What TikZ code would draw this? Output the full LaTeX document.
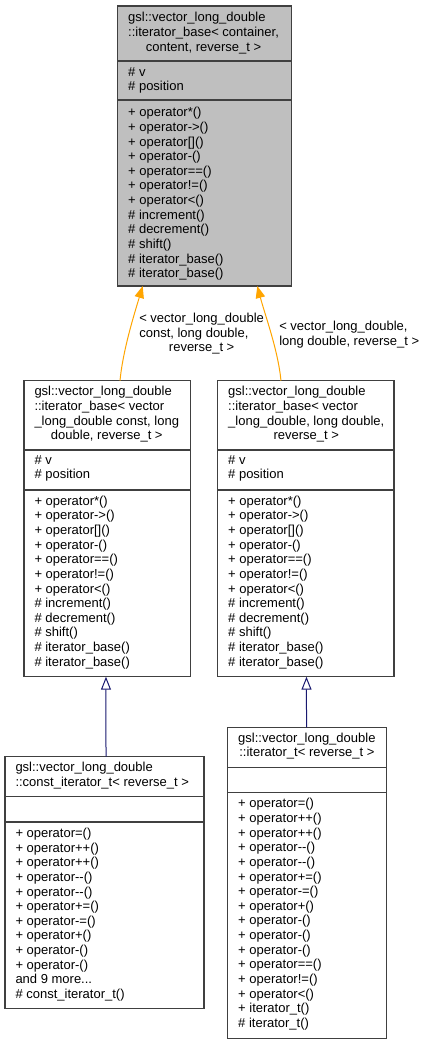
\documentclass[tikz,border=0pt]{standalone}
\usepackage{fontspec}
\setmainfont{Liberation Sans}[Ligatures=TeXOff]
\usetikzlibrary{arrows.meta,calc}
\definecolor{bordergray}{HTML}{404040}
\definecolor{boxgray}{HTML}{BFBFBF}
\definecolor{edgeorange}{HTML}{FFA500}
\definecolor{edgeblue}{HTML}{191970}
\newcommand\mytab[1]{\begin{tabular}[t]{@{}l@{}}#1\end{tabular}}
\newcommand\lastc[1]{\multicolumn{1}{@{}c@{}}{#1}}
\begin{document}
\begin{tikzpicture}[x=0.75pt,y=-0.75pt,
  box/.style={draw=bordergray, line width=0.8pt, fill=white, anchor=north west, inner sep=0pt, outer sep=0pt},
  sepline/.style={draw=bordergray, line width=0.8pt},
  txt/.style={anchor=base west, inner sep=0pt, outer sep=0pt, font=\fontsize{9.75}{10.98}\selectfont},
  inherit/.style={draw=edgeorange, line width=0.75pt, -{Triangle[length=9pt,width=7pt,fill=edgeorange]}},
  derive/.style={draw=edgeblue, line width=0.75pt, -{Triangle[open,length=9.75pt,width=7.5pt]}}]
\fill[white] (0,0) rectangle (426,1044);
\useasboundingbox (0,0) rectangle (426,1044);

% boxes
\node[box, fill=boxgray, minimum width=130.5pt, minimum height=210pt] (A) at (117.7,6) {};
\node[box, minimum width=125pt, minimum height=222pt] (B) at (24,380.7) {};
\node[box, minimum width=132.2pt, minimum height=222pt] (C) at (217.7,380.7) {};
\node[box, minimum width=149.25pt, minimum height=189pt] (D) at (5,756.7) {};
\node[box, minimum width=119.25pt, minimum height=233.25pt] (E) at (227.7,727.3) {};

% separators
\draw[sepline] ($(A.north west)+(0,55)$) -- ($(A.north east)+(0,55)$);
\draw[sepline] ($(A.north west)+(0,94)$) -- ($(A.north east)+(0,94)$);
\draw[sepline] ($(B.north west)+(0,69.3)$) -- ($(B.north east)+(0,69.3)$);
\draw[sepline] ($(B.north west)+(0,109.3)$) -- ($(B.north east)+(0,109.3)$);
\draw[sepline] ($(C.north west)+(0,69.3)$) -- ($(C.north east)+(0,69.3)$);
\draw[sepline] ($(C.north west)+(0,109.3)$) -- ($(C.north east)+(0,109.3)$);
\draw[sepline] ($(D.north west)+(0,40)$) -- ($(D.north east)+(0,40)$);
\draw[sepline] ($(D.north west)+(0,65.3)$) -- ($(D.north east)+(0,65.3)$);
\draw[sepline] ($(E.north west)+(0,40.4)$) -- ($(E.north east)+(0,40.4)$);
\draw[sepline] ($(E.north west)+(0,65.4)$) -- ($(E.north east)+(0,65.4)$);

% texts A
\node[txt] (A-title) at (128.2,21.8) {\mytab{gsl::vector\_long\_double\\::iterator\_base< container,\\\lastc{content, reverse\_t >}}};
\node[txt] (A-attr) at (128.2,76.2) {\mytab{\# v\\\# position}};
\node[txt] (A-meth) at (128.2,116.8) {\mytab{+ operator*()\\+ operator->()\\+ operator[]()\\+ operator-()\\+ operator==()\\+ operator!=()\\+ operator<()\\\# increment()\\\# decrement()\\\# shift()\\\# iterator\_base()\\\# iterator\_base()}};

% texts B
\node[txt] (B-title) at (34.5,395.8) {\mytab{gsl::vector\_long\_double\\::iterator\_base< vector\\\_long\_double const, long\\\lastc{double, reverse\_t >}}};
\node[txt] (B-attr) at (34.5,464.2) {\mytab{\# v\\\# position}};
\node[txt] (B-meth) at (34.5,505.2) {\mytab{+ operator*()\\+ operator->()\\+ operator[]()\\+ operator-()\\+ operator==()\\+ operator!=()\\+ operator<()\\\# increment()\\\# decrement()\\\# shift()\\\# iterator\_base()\\\# iterator\_base()}};

% texts C
\node[txt] (C-title) at (228.2,395.8) {\mytab{gsl::vector\_long\_double\\::iterator\_base< vector\\\_long\_double, long double,\\\lastc{reverse\_t >}}};
\node[txt] (C-attr) at (228.2,464.2) {\mytab{\# v\\\# position}};
\node[txt] (C-meth) at (228.2,505.2) {\mytab{+ operator*()\\+ operator->()\\+ operator[]()\\+ operator-()\\+ operator==()\\+ operator!=()\\+ operator<()\\\# increment()\\\# decrement()\\\# shift()\\\# iterator\_base()\\\# iterator\_base()}};

% texts D
\node[txt] (D-title) at (15.5,771.8) {\mytab{gsl::vector\_long\_double\\\lastc{::const\_iterator\_t< reverse\_t >}}};
\node[txt] (D-meth) at (15.5,837.5) {\mytab{+ operator=()\\+ operator++()\\+ operator++()\\+ operator--()\\+ operator--()\\+ operator+=()\\+ operator-=()\\+ operator+()\\+ operator-()\\+ operator-()\\and 9 more...\\\# const\_iterator\_t()}};

% texts E
\node[txt] (E-title) at (238.2,742.2) {\mytab{gsl::vector\_long\_double\\\lastc{::iterator\_t< reverse\_t >}}};
\node[txt] (E-meth) at (238.2,807.8) {\mytab{+ operator=()\\+ operator++()\\+ operator++()\\+ operator--()\\+ operator--()\\+ operator+=()\\+ operator-=()\\+ operator+()\\+ operator-()\\+ operator-()\\+ operator-()\\+ operator==()\\+ operator!=()\\+ operator<()\\+ iterator\_t()\\\# iterator\_t()}};

% edge labels
\node[txt] (L1) at (139.3,322.5) {\mytab{< vector\_long\_double\\const, long double,\\\lastc{reverse\_t >}}};
\node[txt] (L2) at (279.3,330.5) {\mytab{< vector\_long\_double,\\\lastc{long double, reverse\_t >}}};

% connectors
\draw[inherit] ($(B.north)+(12.65,0)$) .. controls ($(B.north)+(15.65,-30.7)$) and ($(A.south)+(-70.7,29)$) .. ($(A.south)+(-62,0)$);
\draw[inherit] ($(C.north)+(-24.85,0)$) .. controls ($(C.north)+(-27.85,-30.7)$) and ($(A.south)+(60.3,29)$) .. ($(A.south)+(52.6,0)$);
\draw[derive] ($(D.north)+(1.5,0)$) -- ($(B.south)+(-1.35,0)$);
\draw[derive] ($(E.north)+(-0.7,0)$) -- ($(C.south)+(0.65,0)$);
\end{tikzpicture}
\end{document}
